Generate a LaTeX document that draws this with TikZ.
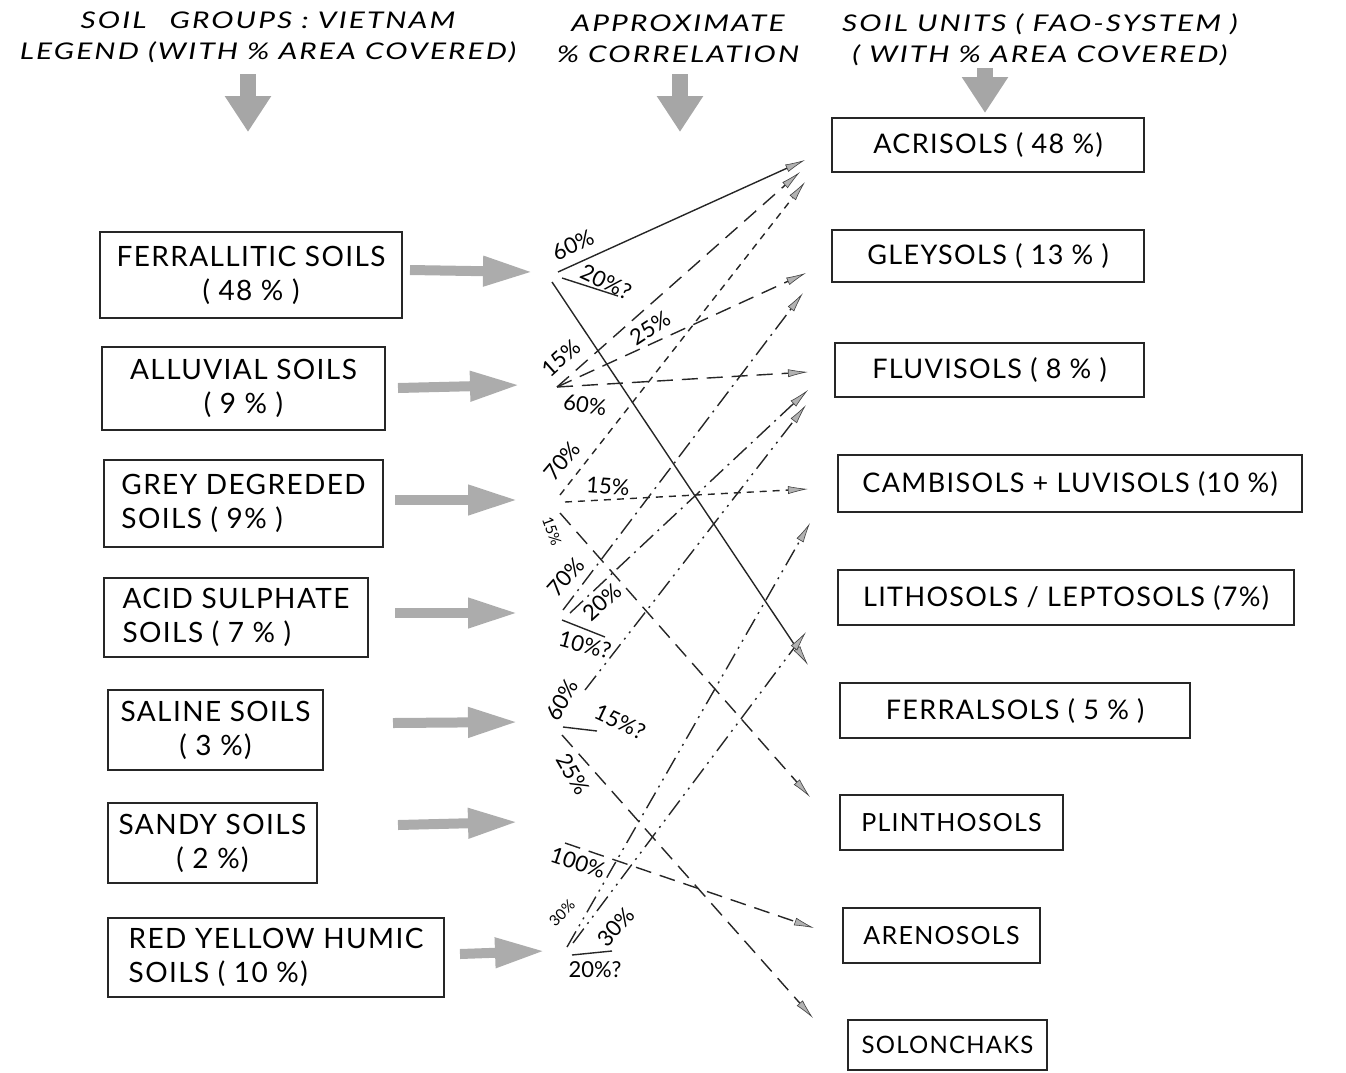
\documentclass[tikz,border=0pt]{standalone}
\usepackage{fontspec}
\setmainfont{Lato}
\newfontfamily\boxfnt{Lato}[LetterSpace=5]
\newfontfamily\hdrfnt{Lato}[FakeStretch=1.3,LetterSpace=9]
\usetikzlibrary{arrows.meta}
\begin{document}
\begin{tikzpicture}[x=1pt,y=-1pt,
  sbox/.style={draw=black!85,line width=1.2pt,inner sep=0pt,align=center,
     font=\boxfnt\fontsize{28}{34}\selectfont},
  ubox/.style={draw=black!85,line width=1.2pt,inner sep=0pt,
     font=\boxfnt\fontsize{27}{30}\selectfont},
  hdr/.style={font=\hdrfnt\itshape\fontsize{23}{31}\selectfont, align=center, inner sep=0pt},
  pct/.style={font=\fontsize{22}{24}\selectfont, inner sep=0pt},
  big/.style={gray!65, line width=10pt, -{Triangle[length=50pt,width=28pt]}},
  hbig/.style={gray!70, line width=16pt, -{Triangle[length=36pt,width=44pt]}},
  conn/.style={line width=1.4pt, black!85, -{Latex[length=20pt,width=8pt,color=black!75,fill=gray!60,line width=0.6pt]}},
  plain/.style={line width=1.4pt, black!85},
  ldash/.style={dash pattern=on 16pt off 9pt},
  sdash/.style={dash pattern=on 7pt off 6pt},
  ddot/.style={dash pattern=on 18pt off 6pt on 2pt off 6pt},
  dddot/.style={dash pattern=on 18pt off 6pt on 2pt off 6pt on 2pt off 6pt},
]
\useasboundingbox (0,0) rectangle (1346,1072);

% headers
\node[hdr] (h1) at (268,37) {SOIL\quad GROUPS : VIETNAM\\LEGEND (WITH \% AREA COVERED)};
\node[hdr] (h2) at (678,39) {APPROXIMATE\\\% CORRELATION};
\node[hdr] (h3) at (1040,40) {SOIL UNITS ( FAO-SYSTEM )\\( WITH \% AREA COVERED)};
\coordinate (h1a) at (248,74); \coordinate (h1b) at (248,132);
\coordinate (h2a) at (680,74); \coordinate (h2b) at (680,132);
\coordinate (h3a) at (985,68); \coordinate (h3b) at (985,113);
\draw[hbig] (h1a) -- (h1b);
\draw[hbig] (h2a) -- (h2b);
\draw[hbig] (h3a) -- (h3b);

% left boxes
\node[sbox, minimum width=302pt, minimum height=86pt] (ferr) at (251,275) {FERRALLITIC SOILS\\( 48 \% )};
\node[sbox, minimum width=283pt, minimum height=83pt] (allu) at (243.5,388.5) {ALLUVIAL SOILS\\( 9 \% )};
\node[sbox, align=left, minimum width=279pt, minimum height=87pt] (grey) at (243.5,503.5) {GREY DEGREDED\\SOILS ( 9\% )};
\node[sbox, align=left, minimum width=264pt, minimum height=79pt] (acid) at (236,617.5) {ACID SULPHATE\\SOILS ( 7 \% )};
\node[sbox, minimum width=215pt, minimum height=80pt] (sali) at (215.5,730) {SALINE SOILS\\( 3 \%)};
\node[sbox, minimum width=209pt, minimum height=80pt] (sand) at (212.5,843) {SANDY SOILS\\( 2 \%)};
\node[sbox, align=left, minimum width=336pt, minimum height=79pt] (redy) at (276,957.5) {RED YELLOW HUMIC\\SOILS ( 10 \%)};

% right boxes
\node[ubox, minimum width=312pt, minimum height=54pt] (acr) at (988,145) {ACRISOLS ( 48 \%)};
\node[ubox, minimum width=312pt, minimum height=52pt] (gle) at (988,256) {GLEYSOLS ( 13 \% )};
\node[ubox, minimum width=309pt, minimum height=54pt] (flu) at (989.5,370) {FLUVISOLS ( 8 \% )};
\node[ubox, minimum width=464pt, minimum height=57pt] (cam) at (1070,483.5) {CAMBISOLS + LUVISOLS (10 \%)};
\node[ubox, minimum width=456pt, minimum height=55pt] (lit) at (1066,597.5) {LITHOSOLS / LEPTOSOLS (7\%)};
\node[ubox, minimum width=350pt, minimum height=55pt] (fer) at (1015,710.5) {FERRALSOLS ( 5 \% )};
\node[ubox, minimum width=223pt, minimum height=55pt, font=\boxfnt\fontsize{25}{30}\selectfont] (pli) at (951.5,822.5) {PLINTHOSOLS};
\node[ubox, minimum width=197pt, minimum height=55pt, font=\boxfnt\fontsize{25}{30}\selectfont] (are) at (941.5,935.5) {ARENOSOLS};
\node[ubox, minimum width=199pt, minimum height=50pt, font=\boxfnt\fontsize{24}{30}\selectfont] (sol) at (947.5,1045) {SOLONCHAKS};

% big gray arrows
\coordinate (bf1) at (410,270); \coordinate (bf2) at (533,272);
\coordinate (ba1) at (398,388); \coordinate (ba2) at (520,385);
\coordinate (bg1) at (395,500); \coordinate (bg2) at (518,500);
\coordinate (bs1) at (395,613); \coordinate (bs2) at (518,613);
\coordinate (bn1) at (393,723); \coordinate (bn2) at (518,722);
\coordinate (bd1) at (398,825); \coordinate (bd2) at (518,822);
\coordinate (br1) at (460,954); \coordinate (br2) at (545,951);
\draw[big] (bf1) -- (bf2);
\draw[big] (ba1) -- (ba2);
\draw[big] (bg1) -- (bg2);
\draw[big] (bs1) -- (bs2);
\draw[big] (bn1) -- (bn2);
\draw[big] (bd1) -- (bd2);
\draw[big] (br1) -- (br2);

% origins
\coordinate (F1) at (558,272); \coordinate (F2) at (552,282);
\coordinate (F3) at (562,278); \coordinate (F3e) at (618,296);
\coordinate (A1) at (557,387);
\coordinate (G1) at (560,495); \coordinate (G2) at (565,502); \coordinate (G3) at (560,513);
\coordinate (S1) at (563,610); \coordinate (S2) at (570,613);
\coordinate (S3) at (562,620); \coordinate (S3e) at (605,637);
\coordinate (N1) at (585,690); \coordinate (N2) at (563,727); \coordinate (N2e) at (597,731);
\coordinate (N3) at (562,735);
\coordinate (D1) at (565,843);
\coordinate (R1) at (567,947); \coordinate (R2) at (573,943);
\coordinate (R3) at (572,955); \coordinate (R3e) at (612,951);

% targets
\coordinate (tAcr1) at (805,160); \coordinate (tAcr2) at (800,172); \coordinate (tAcr3) at (805,182);
\coordinate (tGle1) at (806,273); \coordinate (tGle2) at (803,293);
\coordinate (tFlu1) at (808,372); \coordinate (tFlu2) at (808,390); \coordinate (tFlu3) at (806,405);
\coordinate (tCam1) at (808,489); \coordinate (tCam2) at (810,523);
\coordinate (tLit) at (806,632);
\coordinate (tFer) at (808,665);
\coordinate (tPli) at (810,797);
\coordinate (tAre) at (814,928);
\coordinate (tSol) at (813,1018);

% connectors
\draw[conn] (F1) -- (tAcr1);
\draw[conn] (F2) -- (tFer);
\draw[plain] (F3) -- (F3e);
\draw[conn, ldash] (A1) -- (tAcr2);
\draw[conn, ldash] (A1) -- (tGle1);
\draw[conn, ldash] (A1) -- (tFlu1);
\draw[conn, sdash] (G1) -- (tAcr3);
\draw[conn, sdash] (G2) -- (tCam1);
\draw[conn, ldash] (G3) -- (tPli);
\draw[conn, ddot] (S1) -- (tGle2);
\draw[conn, ddot] (S2) -- (tFlu2);
\draw[plain] (S3) -- (S3e);
\draw[conn, dddot] (N1) -- (tFlu3);
\draw[plain] (N2) -- (N2e);
\draw[conn, ldash] (N3) -- (tSol);
\draw[conn, ldash] (D1) -- (tAre);
\draw[conn, dddot] (R1) -- (tCam2);
\draw[conn, dddot] (R2) -- (tLit);
\draw[plain] (R3) -- (R3e);

% percentage labels
\node[pct, rotate=25] (l1) at (573,245) {60\%};
\node[pct, rotate=-25] (l2) at (606,282) {20\%?};
\node[pct, rotate=33] (l3) at (650,328) {25\%};
\node[pct, rotate=42] (l4) at (561,358) {15\%};
\node[pct, rotate=-8] (l5) at (585,405) {60\%};
\node[pct, rotate=50] (l6) at (562,461) {70\%};
\node[pct, rotate=-4] (l7) at (608,486) {15\%};
\node[pct, font=\fontsize{15}{18}\selectfont, rotate=-70] (l8) at (552,531) {15\%};
\node[pct, rotate=48] (l9) at (566,577) {70\%};
\node[pct, rotate=42] (l10) at (602,602) {20\%};
\node[pct, rotate=-15] (l11) at (585,645) {10\%?};
\node[pct, rotate=60] (l12) at (562,700) {60\%};
\node[pct, rotate=-25] (l13) at (620,722) {15\%?};
\node[pct, rotate=-60] (l14) at (573,774) {25\%};
\node[pct, rotate=-18] (l15) at (578,863) {100\%};
\node[pct, font=\fontsize{15}{18}\selectfont, rotate=45] (l16) at (562,913) {30\%};
\node[pct, rotate=48] (l17) at (616,927) {30\%};
\node[pct] (l18) at (595,970) {20\%?};
\end{tikzpicture}
\end{document}
